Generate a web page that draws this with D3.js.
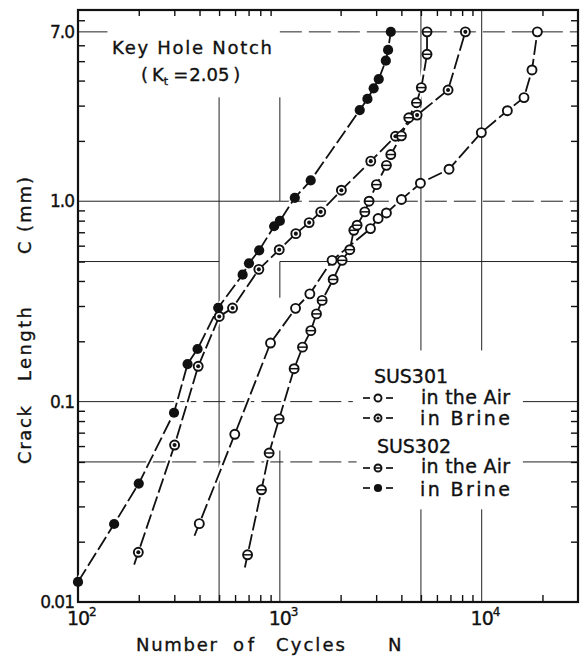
<!DOCTYPE html>
<html>
<head>
<meta charset="utf-8">
<script src="https://cdn.jsdelivr.net/npm/d3@7"></script>
<style>
  html, body { margin: 0; padding: 0; background: #fff; }
  svg { display: block; font-family: "DejaVu Sans", sans-serif; }
</style>
</head>
<body>
<div id="chart"></div>
<script>
// Data
const sus302BrineN = [100, 151, 200, 299, 349, 391, 495, 654, 703, 790, 937, 1000, 1186, 1422, 2488, 2716, 2916, 3090, 3350, 3437, 3546];
const sus302BrineC = [0.0126, 0.0245, 0.039, 0.088, 0.154, 0.183, 0.294, 0.43, 0.49, 0.569, 0.75, 0.797, 1.04, 1.27, 2.85, 3.24, 3.66, 4.07, 5.03, 5.69, 7.0];

const sus301BrineN = [199, 301, 394, 501, 583, 787, 993, 1200, 1397, 1594, 2018, 2821, 3740, 4786, 6813, 8300];
const sus301BrineC = [0.0177, 0.0607, 0.150, 0.266, 0.293, 0.457, 0.573, 0.689, 0.782, 0.885, 1.135, 1.585, 2.11, 2.69, 3.59, 7.0];

const sus301AirN = [399, 598, 899, 1196, 1408, 1815, 2812, 3068, 3373, 4003, 4971, 6890, 9960, 13400, 16200, 17750, 18870];
const sus301AirC = [0.0246, 0.0687, 0.196, 0.292, 0.345, 0.507, 0.73, 0.82, 0.874, 1.02, 1.23, 1.445, 2.20, 2.83, 3.29, 4.52, 7.0];

const sus302AirN = [692, 811, 885, 992, 1177, 1295, 1424, 1519, 1620, 1837, 2035, 2221, 2325, 2414, 2636, 2767, 3010, 3373, 3545, 4003, 4352, 4750, 5023, 5360, 5360];
const sus302AirC = [0.0172, 0.0363, 0.0554, 0.082, 0.146, 0.187, 0.226, 0.274, 0.32, 0.407, 0.507, 0.573, 0.716, 0.759, 0.885, 1.0, 1.21, 1.51, 1.71, 2.12, 2.61, 3.10, 3.69, 5.41, 7.0];

// axis ticks
const xMinorTicks = [200, 300, 400, 500, 600, 700, 800, 900, 2000, 3000, 4000, 5000, 6000, 7000, 8000, 9000, 20000];
const yMinorTicks = [0.02, 0.03, 0.04, 0.05, 0.06, 0.07, 0.08, 0.09, 0.2, 0.3, 0.4, 0.5, 0.6, 0.7, 0.8, 0.9, 2, 3, 4, 5, 6, 8];
const xMajorLabels = [[100, "2"], [1000, "3"], [10000, "4"]];
const yLabels = [[0.01, "0.01"], [0.1, "0.1"], [1, "1.0"], [7, "7.0"]];

// reference lines drawn on the original: [value, from, to, dashed]
const gridH = [
  [7, 100, 140, false], [7, 1000, 30000, true],
  [1, 100, 1000, false], [1, 1000, 30000, true],
  [0.5, 100, 500, false], [0.5, 1000, 30000, false],
  [0.1, 100, 300, false], [0.1, 300, 2300, true], [0.1, 16000, 30000, false],
  [0.05, 100, 300, false], [0.05, 300, 2400, true], [0.05, 16000, 30000, false]
];
const gridV = [
  [500, 0.01, 3.3, false],
  [1000, 1, 3.3, false], [1000, 0.33, 0.5, false], [1000, 0.01, 0.057, false],
  [5000, 0.18, 9, false], [5000, 0.01, 0.029, false],
  [10000, 0.18, 9, false], [10000, 0.01, 0.029, false]
];

const series = [
  { name: "SUS302 in Brine", N: sus302BrineN, C: sus302BrineC, marker: "filled", tail: false },
  { name: "SUS301 in Brine", N: sus301BrineN, C: sus301BrineC, marker: "dot", tail: true },
  { name: "SUS301 in the Air", N: sus301AirN, C: sus301AirC, marker: "open", tail: true },
  { name: "SUS302 in the Air", N: sus302AirN, C: sus302AirC, marker: "bar", tail: true }
];

// Dimensions
const width = 581;
const height = 662;
const margin = { top: 10, right: 3, bottom: 60, left: 78 };

const x = d3.scaleLog().domain([100, 30000]).range([margin.left, width - margin.right]);
const y = d3.scaleLog().domain([0.01, 9]).range([height - margin.bottom, margin.top]);

const svg = d3.select("#chart").append("svg")
  .attr("width", width)
  .attr("height", height)
  .attr("viewBox", [0, 0, width, height]);

svg.append("rect").attr("width", width).attr("height", height).attr("fill", "#fff");

// reference grid
const grid = svg.append("g").attr("stroke", "#222").attr("stroke-width", 1);
grid.selectAll("line.h")
  .data(gridH)
  .join("line")
  .attr("class", "h")
  .attr("x1", d => x(d[1])).attr("x2", d => x(d[2]))
  .attr("y1", d => y(d[0])).attr("y2", d => y(d[0]))
  .attr("stroke-dasharray", d => d[3] ? "22,7" : null);
grid.selectAll("line.v")
  .data(gridV)
  .join("line")
  .attr("class", "v")
  .attr("x1", d => x(d[0])).attr("x2", d => x(d[0]))
  .attr("y1", d => y(d[1])).attr("y2", d => y(d[2]))
  .attr("stroke-dasharray", d => d[3] ? "22,7" : null);

// frame + inward ticks
const [x0, x1] = x.range();
const [y0, y1] = y.range();

function tidy(g) {
  g.select(".domain").remove();
  g.selectAll(".tick line").attr("stroke", "#111").attr("stroke-width", 1.4);
}
svg.append("g").attr("transform", `translate(0,${y0})`)
  .call(d3.axisBottom(x).tickValues(xMinorTicks).tickSize(-7).tickFormat(""))
  .call(tidy);
svg.append("g").attr("transform", `translate(0,${y1})`)
  .call(d3.axisTop(x).tickValues(xMinorTicks).tickSize(-6).tickFormat(""))
  .call(tidy);
svg.append("g").attr("transform", `translate(${x0},0)`)
  .call(d3.axisLeft(y).tickValues(yMinorTicks).tickSize(-7).tickFormat(""))
  .call(tidy);
svg.append("g").attr("transform", `translate(${x1},0)`)
  .call(d3.axisRight(y).tickValues(yMinorTicks).tickSize(-7).tickFormat(""))
  .call(tidy);

svg.append("rect")
  .attr("x", x0).attr("y", y1)
  .attr("width", x1 - x0).attr("height", y0 - y1)
  .attr("fill", "none")
  .attr("stroke", "#111")
  .attr("stroke-width", 2.2);

// curves
const line = d3.line();
function pathPoints(s) {
  const pts = s.N.map((n, i) => [x(n), y(s.C[i])]);
  if (s.tail) {
    const [a, b] = pts;
    const dx = a[0] - b[0], dy = a[1] - b[1];
    const len = Math.hypot(dx, dy);
    pts.unshift([a[0] + dx / len * 13, a[1] + dy / len * 13]);
  }
  return pts;
}

const curves = svg.append("g").attr("fill", "none");
curves.selectAll("path.halo")
  .data(series)
  .join("path")
  .attr("class", "halo")
  .attr("stroke", "#fff")
  .attr("stroke-width", 6)
  .attr("d", d => line(pathPoints(d)));
curves.selectAll("path.curve")
  .data(series)
  .join("path")
  .attr("class", "curve")
  .attr("stroke", "#111")
  .attr("stroke-width", 1.8)
  .attr("stroke-dasharray", "15,4")
  .attr("d", d => line(pathPoints(d)));

function drawMarker(g, type, r) {
  if (type === "filled") {
    g.append("circle").attr("r", r + 0.6).attr("fill", "#111");
    return;
  }
  g.append("circle").attr("r", r).attr("fill", "#fff").attr("stroke", "#111").attr("stroke-width", 1.9);
  if (type === "dot") {
    g.append("circle").attr("r", r * 0.45).attr("fill", "#111");
  }
  if (type === "bar") {
    g.append("line").attr("x1", -r).attr("x2", r).attr("stroke", "#111").attr("stroke-width", 1.5);
  }
}

series.forEach(s => {
  svg.append("g")
    .selectAll("g")
    .data(s.N.map((n, i) => ({ n, c: s.C[i] })))
    .join("g")
    .attr("transform", d => `translate(${x(d.n)},${y(d.c)})`)
    .each(function () { drawMarker(d3.select(this), s.marker, 4.5); });
});

// all text slightly heavier, like the printed figure
const labels = svg.append("g").attr("fill", "#111").attr("stroke", "#111").attr("stroke-width", 0.35);

// tick labels
labels.selectAll("text.ylab")
  .data(yLabels)
  .join("text")
  .attr("class", "ylab")
  .attr("x", x0 - 4)
  .attr("y", d => y(d[0]))
  .attr("dy", "0.36em")
  .attr("text-anchor", "end")
  .attr("font-size", 17)
  .attr("letter-spacing", -1)
  .text(d => d[1]);

const xl = labels.selectAll("g.xlab")
  .data(xMajorLabels)
  .join("g")
  .attr("class", "xlab")
  .attr("transform", d => `translate(${x(d[0])},${y0 + 23})`);
xl.append("text")
  .attr("text-anchor", "middle")
  .attr("font-size", 19)
  .attr("letter-spacing", -1)
  .text("10");
xl.append("text")
  .attr("x", 11)
  .attr("y", -9)
  .attr("font-size", 12)
  .text(d => d[1]);

// axis titles
const xTitle = [["Number", 136, 81], ["of", 233, 21], ["Cycles", 276, 69], ["N", 388, 12]];
labels.selectAll("text.xt")
  .data(xTitle)
  .join("text")
  .attr("class", "xt")
  .attr("x", d => d[1])
  .attr("y", 651)
  .attr("font-size", 18)
  .attr("textLength", d => d[2])
  .attr("lengthAdjust", "spacing")
  .text(d => d[0]);

const yTitle = [["Crack", 464, 58], ["Length", 381, 74], ["C (mm)", 254, 77]];
labels.selectAll("text.yt")
  .data(yTitle)
  .join("text")
  .attr("class", "yt")
  .attr("transform", d => `translate(31,${d[1]}) rotate(-90)`)
  .attr("font-size", 18)
  .attr("textLength", d => d[2])
  .attr("lengthAdjust", "spacing")
  .text(d => d[0]);

// annotation
labels.append("text")
  .attr("x", 112).attr("y", 54)
  .attr("font-size", 18)
  .attr("textLength", 160)
  .attr("lengthAdjust", "spacing")
  .text("Key Hole Notch");
const kt = labels.append("text").attr("x", 141).attr("y", 81).attr("font-size", 18);
kt.append("tspan").text("(");
kt.append("tspan").attr("dx", 4).text("K");
kt.append("tspan").attr("font-size", 11).attr("dy", 4).text("t");
kt.append("tspan").attr("dx", 5).attr("dy", -4).text("=");
kt.append("tspan").attr("dx", 1).text("2.05");
kt.append("tspan").attr("dx", 4).text(")");

// legend
const legendRows = [
  { label: "SUS301", head: true, x: 374, y: 383 },
  { label: "in the Air", marker: "open", x: 421, y: 404, my: 398, w: 89 },
  { label: "in Brine", marker: "dot", x: 420, y: 425, my: 418, w: 90 },
  { label: "SUS302", head: true, x: 377, y: 453 },
  { label: "in the Air", marker: "bar", x: 421, y: 473, my: 468, w: 89 },
  { label: "in Brine", marker: "filled", x: 420, y: 496, my: 488, w: 90 }
];
const legend = svg.append("g");
legendRows.forEach(r => {
  legend.append("text")
    .attr("x", r.x).attr("y", r.y)
    .attr("font-size", 19)
    .attr("fill", "#111").attr("stroke", "#111").attr("stroke-width", 0.35)
    .attr("textLength", r.head ? 74 : r.w)
    .attr("lengthAdjust", "spacing")
    .text(r.label);
  if (r.head) return;
  const m = legend.append("g").attr("transform", `translate(378,${r.my})`);
  m.append("line").attr("x1", -15).attr("x2", -8).attr("stroke", "#111").attr("stroke-width", 1.7);
  m.append("line").attr("x1", 8).attr("x2", 15).attr("stroke", "#111").attr("stroke-width", 1.7);
  drawMarker(m, r.marker, 3.5);
});
</script>
</body>
</html>
